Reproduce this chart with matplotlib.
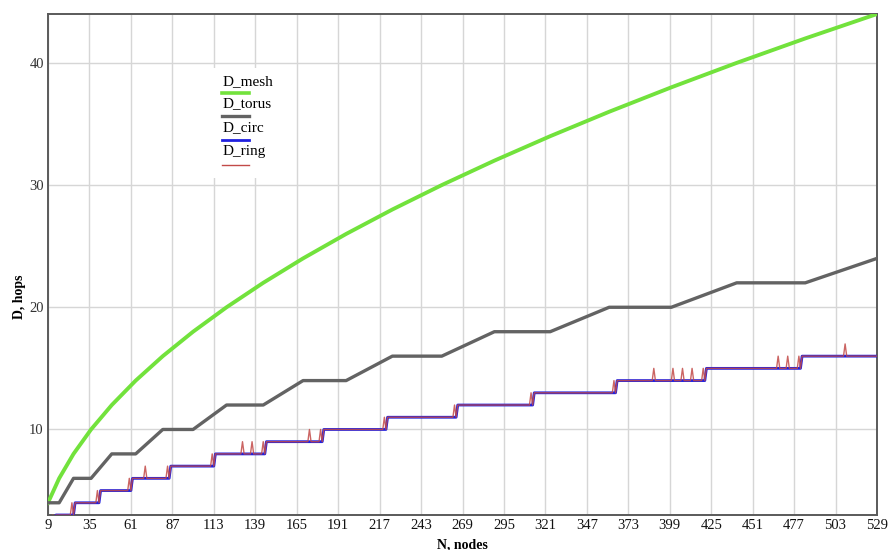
import numpy as np
import matplotlib
matplotlib.use("Agg")
import matplotlib.pyplot as plt

plt.rcParams['font.family'] = ['Liberation Serif', 'DejaVu Serif']

# mesh and torus are sampled at square node counts k*k
sq_n = [9, 16, 25, 36, 49, 64, 81, 100, 121, 144, 169, 196, 225, 256,
        289, 324, 361, 400, 441, 484, 529]
mesh_d = [4, 6, 8, 10, 12, 14, 16, 18, 20, 22, 24, 26, 28, 30,
          32, 34, 36, 38, 40, 42, 44]
torus_d = [4, 4, 6, 6, 8, 8, 10, 10, 12, 12, 14, 14, 16, 16,
           18, 18, 20, 20, 22, 22, 24]

# circulant: level of the staircase and the last N that still has it
circ_levels = [2, 3, 4, 5, 6, 7, 8, 9, 10, 11, 12, 13, 14, 15, 16]
circ_last_n = [13, 25, 41, 61, 85, 113, 145, 181, 221, 265, 313, 365, 421, 481, 529]

# ring: same as circ but one hop more at these N
ring_step_spikes = [12, 24, 40, 60, 84, 112, 144, 180, 220, 264, 312, 364, 420, 480]
ring_lone_spikes = [70, 131, 137, 173, 389, 401, 407, 413, 467, 473, 509]

x_ticks = [9, 35, 61, 87, 113, 139, 165, 191, 217, 243, 269, 295, 321,
           347, 373, 399, 425, 451, 477, 503, 529]
y_ticks = [10, 20, 30, 40]

n_all = np.arange(9, 530)
circ_d = np.array(circ_levels)[np.searchsorted(circ_last_n, n_all)]
ring_d = circ_d.copy()
for n in ring_step_spikes + ring_lone_spikes:
    ring_d[n - 9] += 1

fig = plt.figure(figsize=(8.93, 5.5), dpi=100)
ax = fig.add_axes([48 / 893, 1 - 515 / 550, 829 / 893, 501 / 550])

ax.plot(sq_n, mesh_d, color='#72e23c', lw=2.8, zorder=3)
ax.plot(sq_n, torus_d, color='#636363', lw=2.4, zorder=3)
ax.plot(n_all, circ_d, color='#2020e0', lw=2.0, zorder=3)
ax.plot(n_all, ring_d, color='#c24a48', lw=1.0, alpha=0.85, zorder=4)

ax.set_xlim(9, 529)
ax.set_ylim(3, 44)
ax.set_xticks(x_ticks)
ax.set_yticks(y_ticks)
ax.grid(True, color='#d6d6d6', lw=1.0, zorder=0)
ax.set_axisbelow(True)
ax.tick_params(axis='x', length=0, labelsize=10.5, pad=3, labelcolor='#111111')
ax.tick_params(axis='y', length=0, labelsize=10.5, pad=3, labelcolor='#333333')
for s in ax.spines.values():
    s.set_color('#5a5a5a')
    s.set_linewidth(1.4)

ax.set_xlabel('N, nodes', fontsize=10, fontweight='bold')
ax.set_ylabel('D, hops', fontsize=10, fontweight='bold')
ax.xaxis.set_label_coords(0.5, -0.046)
ax.yaxis.set_label_coords(-0.027, 0.435)

# hand-made legend in a white box, as in the source
def fx(px):
    return (px - 48) / 829

def fy(py):
    return (515 - py) / 501

ax.add_patch(plt.Rectangle((fx(204), fy(178)), fx(286) - fx(204), fy(68) - fy(178),
                           transform=ax.transAxes, facecolor='white',
                           edgecolor='none', zorder=1))
legend_items = [('D_mesh', '#72e23c', 82, 93, 2.6),
                ('D_torus', '#636363', 104, 116, 2.4),
                ('D_circ', '#2020e0', 128, 140, 2.0),
                ('D_ring', '#c24a48', 151, 165, 1.0)]
for name, col, ty, ly, lw in legend_items:
    ax.text(fx(223), fy(ty), name, transform=ax.transAxes, fontsize=11,
            va='center', ha='left', zorder=5)
    ax.plot([fx(222), fx(249)], [fy(ly), fy(ly)], transform=ax.transAxes,
            color=col, lw=lw, zorder=5, clip_on=False)

fig.savefig('out.png', dpi=100)
